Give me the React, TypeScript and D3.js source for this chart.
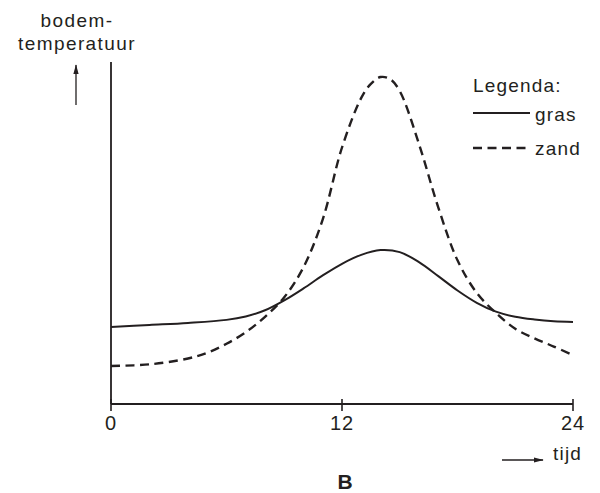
import React from "react";
import * as d3 from "d3";

const xTicks = [0, 12, 24];

const grasHours = [0, 2, 4, 6, 7, 8, 9, 10, 11, 12, 13, 14, 15, 16, 17, 18, 19, 20, 21, 22, 23, 24];
const grasValues = [22.5, 23.1, 23.7, 24.6, 25.6, 27.4, 30.3, 33.8, 37.6, 41.0, 43.6, 45.0, 44.4, 41.5, 37.4, 33.2, 29.6, 27.0, 25.5, 24.7, 24.2, 24.0];

const zandHours = [0, 2, 4, 5, 6, 7, 8, 9, 10, 11, 12, 13, 13.5, 14, 14.5, 15, 16, 17, 18, 19, 20, 21, 22, 23, 24];
const zandValues = [11.1, 11.6, 13.3, 15.0, 17.6, 21.0, 25.5, 31.2, 40.0, 54.0, 75.0, 89.5, 93.6, 95.6, 95.0, 91.5, 76.0, 57.5, 42.0, 32.5, 26.6, 22.0, 19.2, 16.8, 14.3];

const yLabelLines = ["bodem-", "temperatuur"];
const xLabel = "tijd";
const legendTitle = "Legenda:";
const legendItems = ["gras", "zand"];
const caption = "B";

export default function App() {
  const W = 600, H = 493;
  const x = d3.scaleLinear().domain([0, 24]).range([111, 573]);
  const y = d3.scaleLinear().domain([0, 100]).range([404, 62]);
  const line = d3
    .line<[number, number]>()
    .x((d) => x(d[0]))
    .y((d) => y(d[1]))
    .curve(d3.curveCatmullRom.alpha(0.5));
  const gras = line(grasHours.map((h, i) => [h, grasValues[i]] as [number, number])) || "";
  const zand = line(zandHours.map((h, i) => [h, zandValues[i]] as [number, number])) || "";
  const font = "'Liberation Sans', Arial, Helvetica, sans-serif";
  const fs = 19;
  const ink = "#231f20";
  return (
    <svg
      width={W}
      height={H}
      style={{ position: "absolute", left: 0, top: 0, background: "#fff" }}
      fontFamily={font}
    >
      <defs>
        <marker id="ah" viewBox="0 0 12 8" refX="11" refY="4" markerWidth="10" markerHeight="7" orient="auto-start-reverse" markerUnits="userSpaceOnUse">
          <path d="M0,0.8 L12,4 L0,7.2 Z" fill={ink} />
        </marker>
      </defs>
      {/* axes */}
      <line x1={x(0)} x2={x(0)} y1={y(100)} y2={y(0)} stroke={ink} strokeWidth={1.8} />
      <line x1={x(0)} x2={x(24)} y1={y(0)} y2={y(0)} stroke={ink} strokeWidth={1.8} />
      {xTicks.map((t) => (
        <g key={t}>
          <line x1={x(t)} x2={x(t)} y1={y(0) - 5} y2={y(0) + 7} stroke={ink} strokeWidth={1.6} />
          <text x={x(t)} y={430} textAnchor="middle" fontSize={fs + 1} fill={ink} letterSpacing={1}>
            {t}
          </text>
        </g>
      ))}
      {/* y label */}
      {yLabelLines.map((s, i) => (
        <text key={s} x={77} y={27 + i * 23} textAnchor="middle" fontSize={fs} fill={ink} letterSpacing={1.4}>
          {s}
        </text>
      ))}
      <line x1={76} x2={76} y1={105} y2={65} stroke={ink} strokeWidth={1.3} markerEnd="url(#ah)" />
      {/* x label */}
      <line x1={502} x2={543} y1={460} y2={460} stroke={ink} strokeWidth={1.3} markerEnd="url(#ah)" />
      <text x={553} y={460} fontSize={fs} fill={ink} letterSpacing={1.2}>
        {xLabel}
      </text>
      <text x={345} y={489} textAnchor="middle" fontSize={21} fontWeight="bold" fill={ink}>
        {caption}
      </text>
      {/* curves */}
      <path d={gras} fill="none" stroke={ink} strokeWidth={2} />
      <path d={zand} fill="none" stroke={ink} strokeWidth={2.4} strokeDasharray="9,5.5" />
      {/* legend */}
      <text x={473} y={92} fontSize={fs} fill={ink} letterSpacing={1.2}>
        {legendTitle}
      </text>
      <line x1={473} x2={530} y1={113} y2={113} stroke={ink} strokeWidth={2} />
      <text x={535} y={121} fontSize={fs} fill={ink} letterSpacing={1.2}>
        {legendItems[0]}
      </text>
      <line x1={473} x2={530} y1={148} y2={148} stroke={ink} strokeWidth={2.4} strokeDasharray="9,5.5" />
      <text x={535} y={155} fontSize={fs} fill={ink} letterSpacing={1.2}>
        {legendItems[1]}
      </text>
    </svg>
  );
}
